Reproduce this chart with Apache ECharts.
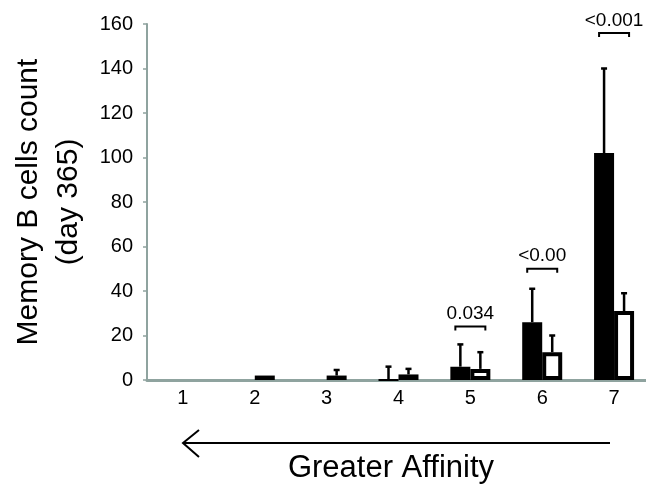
<!DOCTYPE html>
<html>
<head>
<meta charset="utf-8">
<script src="https://cdn.jsdelivr.net/npm/echarts@6/dist/echarts.min.js"></script>
<style>
  html, body { margin: 0; padding: 0; background: #fff; }
  #chart { width: 646px; height: 488px; }
</style>
</head>
<body>
<div id="chart"></div>
<script>
// categories and values
const categories = ['1', '2', '3', '4', '5', '6', '7'];
const blackVals = [null, null, null, 0, 6, 26, 102];
const blackErr = [null, null, null, 6, 16, 41, 140];
const whiteVals = [null, 2, 2, 2.5, 5, 12.5, 31];
const whiteErr = [null, null, 4.5, 5, 12.5, 20, 39];
const yTicks = [0, 20, 40, 60, 80, 100, 120, 140, 160];

// p-value brackets: category index, bracket height (axis units), text
const annotCats = [4, 5, 6];
const annotLevels = [24, 50, 156];
const annotTexts = ['0.034', '<0.00', '<0.001'];

const axisColor = '#8fa39f';

function errData(vals, errs) {
    const out = [];
    vals.forEach(function (v, i) {
        if (v !== null && errs[i] !== null) out.push([i, v, errs[i]]);
    });
    return out;
}

function errorBarRender(offset) {
    return function (params, api) {
        const lo = api.coord([api.value(0), api.value(1)]);
        const hi = api.coord([api.value(0), api.value(2)]);
        const x = lo[0] + offset;
        const style = { stroke: '#000', lineWidth: 2.5 };
        return {
            type: 'group',
            children: [
                { type: 'line', shape: { x1: x, y1: lo[1], x2: x, y2: hi[1] }, style: style },
                { type: 'line', shape: { x1: x - 3, y1: hi[1], x2: x + 3, y2: hi[1] }, style: style }
            ]
        };
    };
}

const chart = echarts.init(document.getElementById('chart'));

const option = {
    animation: false,
    grid: {
        left: 147, right: -4, top: 24, bottom: 108,
        containLabel: false, outerBoundsMode: 'none'
    },
    xAxis: {
        type: 'category',
        data: categories,
        axisLine: { lineStyle: { color: axisColor, width: 3 } },
        axisTick: { show: false },
        axisLabel: { color: '#000', fontSize: 20, fontFamily: 'Liberation Sans', margin: 8 },
        splitLine: { show: false }
    },
    yAxis: {
        type: 'value',
        min: 0,
        max: 160,
        interval: 20,
        name: 'Memory B cells count\n(day 365)',
        nameLocation: 'middle',
        nameGap: 58,
        nameTextStyle: { color: '#000', fontSize: 30, fontFamily: 'Liberation Sans', lineHeight: 40 },
        axisLine: { show: true, lineStyle: { color: axisColor, width: 2 } },
        axisTick: { show: true, length: 4, lineStyle: { color: axisColor, width: 1.5 } },
        axisLabel: {
            color: '#000', fontSize: 20, fontFamily: 'Liberation Sans', margin: 14,
            formatter: function (v) { return yTicks.indexOf(v) >= 0 ? String(v) : ''; }
        },
        splitLine: { show: false }
    },
    series: [
        {
            type: 'bar',
            data: blackVals,
            barWidth: 20,
            barGap: '0%',
            itemStyle: { color: '#000', borderColor: '#000', borderWidth: 2 }
        },
        {
            type: 'bar',
            data: whiteVals,
            barWidth: 20,
            itemStyle: { color: '#fff', borderColor: '#000', borderWidth: 4 }
        },
        {
            type: 'custom',
            data: errData(blackVals, blackErr),
            encode: { x: 0, y: [1, 2] },
            renderItem: errorBarRender(-10),
            z: 5
        },
        {
            type: 'custom',
            data: errData(whiteVals, whiteErr),
            encode: { x: 0, y: [1, 2] },
            renderItem: errorBarRender(10),
            z: 5
        },
        {
            type: 'custom',
            data: annotCats.map(function (c, i) { return [c, annotLevels[i], annotTexts[i]]; }),
            encode: { x: 0, y: 1 },
            renderItem: function (params, api) {
                const p = api.coord([api.value(0), api.value(1)]);
                const x = p[0], y = p[1];
                const txt = annotTexts[params.dataIndex];
                return {
                    type: 'group',
                    children: [
                        {
                            type: 'polyline',
                            shape: { points: [[x - 15, y + 4], [x - 15, y], [x + 15, y], [x + 15, y + 4]] },
                            style: { stroke: '#000', lineWidth: 2, fill: null }
                        },
                        {
                            type: 'text',
                            style: {
                                text: txt, x: x, y: y - 3,
                                textAlign: 'center', textVerticalAlign: 'bottom',
                                fill: '#000', fontSize: 19, fontFamily: 'Liberation Sans'
                            }
                        }
                    ]
                };
            },
            z: 6
        }
    ],
    graphic: [
        {
            type: 'line',
            shape: { x1: 183, y1: 443, x2: 610, y2: 443 },
            style: { stroke: '#000', lineWidth: 2 }
        },
        {
            type: 'polyline',
            shape: { points: [[199, 430], [183, 443], [199, 457]] },
            style: { stroke: '#000', lineWidth: 2, fill: null }
        },
        {
            type: 'text',
            style: {
                text: 'Greater Affinity', x: 391, y: 468,
                textAlign: 'center', textVerticalAlign: 'middle',
                fill: '#000', fontSize: 31, fontFamily: 'Liberation Sans'
            }
        }
    ]
};

chart.setOption(option);
</script>
</body>
</html>
